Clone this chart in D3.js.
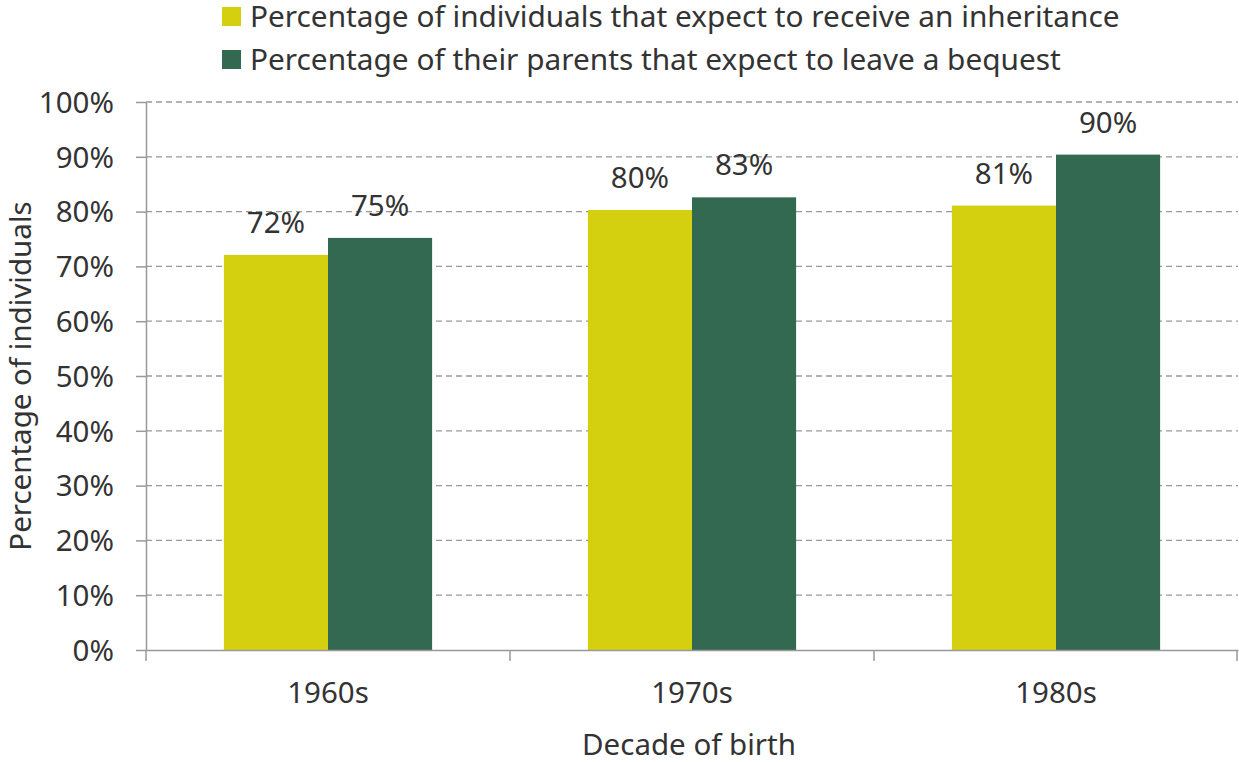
<!DOCTYPE html>
<html><head><meta charset="utf-8">
<script src="https://cdn.jsdelivr.net/npm/d3@7"></script>
<style>body{margin:0;background:#fff}svg{display:block}text{font-family:"Noto Sans",sans-serif;fill:#333}</style>
</head><body>
<script>
const categories = ["1960s", "1970s", "1980s"];
const seriesNames = ["Percentage of individuals that expect to receive an inheritance", "Percentage of their parents that expect to leave a bequest"];
const receive = [72.1, 80.3, 81.1];
const bequest = [75.2, 82.6, 90.4];
const labelsReceive = ["72%", "80%", "81%"];
const labelsBequest = ["75%", "83%", "90%"];
const yTicks = [0,10,20,30,40,50,60,70,80,90,100];
const colors = ["#d4d00f", "#336950"];

const FS = 29.5;
const W = 1239, H = 762;
const m = {left: 146, right: 1238, top: 102, bottom: 650};
const svg = d3.select("body").append("svg").attr("width", W).attr("height", H);

const x = d3.scaleBand().domain(categories).range([m.left, m.right]).paddingInner(0.428).paddingOuter(0.214);
const xs = d3.scaleBand().domain([0,1]).range([0, x.bandwidth()]);
const y = d3.scaleLinear().domain([0,100]).range([m.bottom, m.top]);

// gridlines
svg.append("g").selectAll("line").data(yTicks.filter(d => d > 0)).join("line")
  .attr("x1", m.left).attr("x2", m.right).attr("y1", d => y(d)).attr("y2", d => y(d))
  .attr("stroke", "#999").attr("stroke-width", 1.3).attr("stroke-dasharray", "6,4");

// bars
const data = categories.map((c, i) => ({c, vals: [receive[i], bequest[i]], labs: [labelsReceive[i], labelsBequest[i]]}));
const g = svg.append("g").selectAll("g").data(data).join("g").attr("transform", d => `translate(${x(d.c)},0)`);
g.selectAll("rect").data(d => d.vals).join("rect")
  .attr("x", (d, i) => xs(i)).attr("width", xs.bandwidth())
  .attr("y", d => y(d)).attr("height", d => y(0) - y(d))
  .attr("fill", (d, i) => colors[i]);
g.selectAll("text").data(d => d.vals.map((v, i) => ({v, l: d.labs[i]}))).join("text")
  .attr("x", (d, i) => xs(i) + xs.bandwidth() / 2).attr("y", d => y(d.v) - 22)
  .attr("text-anchor", "middle").attr("font-size", FS).text(d => d.l);

// y axis
const ya = svg.append("g").attr("transform", `translate(${m.left},0)`)
  .call(d3.axisLeft(y).tickValues(yTicks).tickFormat(d => d + "%").tickSize(10).tickPadding(22).tickSizeOuter(0));
ya.select(".domain").attr("stroke", "#999").attr("stroke-width", 1.5);
ya.selectAll(".tick line").attr("stroke", "#999").attr("stroke-width", 1.5);
ya.selectAll(".tick text").attr("font-size", FS).attr("font-family", "Noto Sans").attr("fill", "#333").attr("dy", "0.35em");

// x axis
const xa = svg.append("g").attr("transform", `translate(0,${m.bottom})`)
  .call(d3.axisBottom(x).tickSize(0).tickPadding(32));
xa.select(".domain").attr("stroke", "#999").attr("stroke-width", 1.5);
xa.selectAll(".tick text").attr("font-size", FS).attr("font-family", "Noto Sans").attr("fill", "#333");
const bounds = [m.left].concat(categories.map(c => x(c) + x.bandwidth() + x.step() * x.paddingInner() / 2));
bounds[bounds.length - 1] = m.right - 1;
svg.append("g").selectAll("line").data(bounds).join("line")
  .attr("x1", d => d).attr("x2", d => d).attr("y1", m.bottom).attr("y2", m.bottom + 11)
  .attr("stroke", "#999").attr("stroke-width", 1.5);

// axis titles
svg.append("text").attr("x", 689).attr("y", 755).attr("text-anchor", "middle").attr("font-size", FS).text("Decade of birth");
svg.append("text").attr("transform", `translate(31,${(m.top + m.bottom) / 2}) rotate(-90)`).attr("text-anchor", "middle").attr("font-size", FS).text("Percentage of individuals");

// legend
const lg = svg.append("g").selectAll("g").data(seriesNames).join("g").attr("transform", (d, i) => `translate(222,${7 + i * 43})`);
lg.append("rect").attr("width", 19).attr("height", 19).attr("fill", (d, i) => colors[i]);
lg.append("text").attr("x", 28).attr("y", 19.5).attr("font-size", 29.8).text(d => d);
</script>
</body></html>
